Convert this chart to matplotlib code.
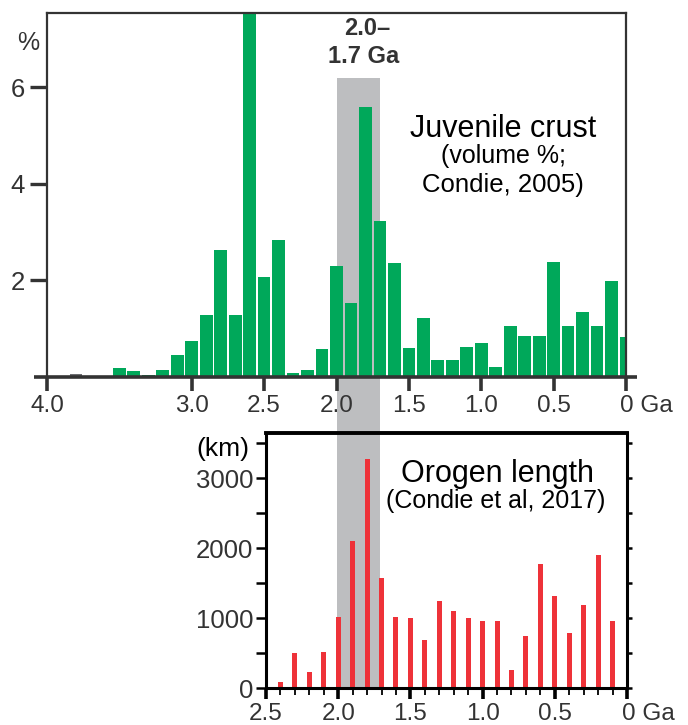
import matplotlib
matplotlib.use('Agg')
import matplotlib.pyplot as plt
from matplotlib.patches import Rectangle
from matplotlib.ticker import MultipleLocator
import matplotlib.transforms as mtransforms

plt.rcParams['font.family'] = ['Liberation Sans', 'DejaVu Sans']

# Juvenile crust (volume %, Condie 2005), bin centres in Ga
crust_age = [3.5, 3.4, 3.3, 3.2, 3.1, 3.0, 2.9, 2.8, 2.7, 2.6, 2.5, 2.4, 2.3, 2.2, 2.1,
             2.0, 1.9, 1.8, 1.7, 1.6, 1.5, 1.4, 1.3, 1.2, 1.1, 1.0, 0.9, 0.8, 0.7, 0.6,
             0.5, 0.4, 0.3, 0.2, 0.1, 0.0]
crust_pct = [0.19, 0.12, 0.05, 0.15, 0.46, 0.74, 1.29, 2.63, 1.29, 7.9, 2.08, 2.84, 0.09,
             0.15, 0.57, 2.30, 1.53, 5.6, 3.23, 2.36, 0.60, 1.22, 0.35, 0.35, 0.62, 0.70,
             0.21, 1.05, 0.84, 0.84, 2.38, 1.05, 1.34, 1.05, 1.98, 0.82]
old_age = [3.8]
old_pct = [0.07]

# Orogen length (km, Condie et al 2017)
orogen_age = [2.4, 2.3, 2.2, 2.1, 2.0, 1.9, 1.8, 1.7, 1.6, 1.5, 1.4, 1.3, 1.2, 1.1, 1.0,
              0.9, 0.8, 0.7, 0.6, 0.5, 0.4, 0.3, 0.2, 0.1]
orogen_km = [87, 505, 231, 519, 1010, 2106, 3274, 1572, 1010, 995, 692, 1240, 1096, 995,
             952, 952, 255, 745, 1769, 1322, 788, 1192, 1899, 962]

band = (2.0, 1.7)
top_ticks = [4.0, 3.0, 2.5, 2.0, 1.5, 1.0, 0.5, 0.0]
top_labels = ['4.0', '3.0', '2.5', '2.0', '1.5', '1.0', '0.5', '0 Ga']
bot_ticks = [2.5, 2.0, 1.5, 1.0, 0.5, 0.0]
bot_labels = ['2.5', '2.0', '1.5', '1.0', '0.5', '0 Ga']

GREEN = '#00a85a'
RED = '#ee3239'
BAND = '#bdbec0'
DARK = '#333333'

fig = plt.figure(figsize=(6.88, 7.25), dpi=100)
W, H = 688, 725
ax1 = fig.add_axes([47 / W, 1 - 377 / H, 579 / W, 364 / H])
ax2 = fig.add_axes([266 / W, 1 - 688 / H, 361 / W, 255 / H])
for ax in (ax1, ax2):
    ax.set_facecolor('none')

# shaded 2.0-1.7 Ga band running through both panels
tr = mtransforms.blended_transform_factory(ax1.transData, fig.transFigure)
fig.patches.append(Rectangle((band[0], 1 - 687 / H), band[1] - band[0], (687 - 78) / H,
                             transform=tr, color=BAND, zorder=-1, lw=0))

# "0 Ga": keep the 0 centred on its tick
shift = mtransforms.ScaledTranslation(-5.5 / 100, 0, fig.dpi_scale_trans)

# ---- top panel
ax1.bar(crust_age, crust_pct, width=0.088, color=GREEN, lw=0)
ax1.bar(old_age, old_pct, width=0.088, color='#6d6e71', lw=0)
ax1.set_xlim(4.0, 0.0)
ax1.set_ylim(0, 7.54)
for s in ['left', 'top', 'right']:
    ax1.spines[s].set_color(DARK)
    ax1.spines[s].set_linewidth(1.6)
ax1.spines['bottom'].set_visible(False)
ax1.plot([-0.0225, 1.019], [0, 0], transform=ax1.transAxes, color=DARK, lw=2.6,
         clip_on=False, solid_capstyle='butt')
ax1.set_yticks([2, 4, 6])
ax1.set_xticks(top_ticks)
ax1.set_xticklabels(top_labels)
ax1.tick_params(axis='y', length=12, width=2.4, color=DARK, labelsize=18.5, pad=4,
                labelcolor=DARK)
ax1.tick_params(axis='x', length=10, width=2.6, color=DARK, labelsize=17.5, pad=3,
                labelcolor=DARK)
lab = ax1.get_xticklabels()[-1]
lab.set_horizontalalignment('left')
lab.set_transform(lab.get_transform() + shift)
ax1.text(4.13, 6.77, '%', fontsize=18, color=DARK, ha='center', va='baseline')
ax1.text(1.79, 7.08, '2.0\u2013', fontsize=17, fontweight='bold', color=DARK,
         ha='center', va='baseline')
ax1.text(1.81, 6.50, '1.7 Ga', fontsize=17, fontweight='bold', color=DARK,
         ha='center', va='baseline')
ax1.text(0.85, 4.97, 'Juvenile crust', fontsize=22, color='black', ha='center',
         va='baseline')
ax1.text(0.85, 4.43, '(volume %;', fontsize=18, color='black', ha='center',
         va='baseline')
ax1.text(0.85, 3.83, 'Condie, 2005)', fontsize=18.5, color='black', ha='center',
         va='baseline')

# ---- bottom panel
ax2.bar(orogen_age, orogen_km, width=0.035, color=RED, lw=0)
ax2.set_xlim(2.5, 0.0)
ax2.set_ylim(0, 3650)
for s in ax2.spines.values():
    s.set_color('black')
    s.set_linewidth(2.2)
ax2.spines['top'].set_linewidth(2.8)
ax2.set_xticks(bot_ticks)
ax2.set_xticklabels(bot_labels)
ax2.xaxis.set_minor_locator(MultipleLocator(0.1))
ax2.set_yticks([0, 1000, 2000, 3000])
ax2.yaxis.set_minor_locator(MultipleLocator(500))
ax2.tick_params(axis='x', which='major', length=8, width=2.6, labelsize=17.5, pad=3,
                labelcolor=DARK)
ax2.tick_params(axis='x', which='minor', length=5, width=1.3)
ax2.tick_params(axis='y', which='both', length=7, width=1.8, labelsize=18.5, pad=2,
                labelcolor=DARK)
lab = ax2.get_xticklabels()[-1]
lab.set_horizontalalignment('left')
lab.set_transform(lab.get_transform() + shift)

# short ticks on the right edge
ax2r = ax2.twinx()
ax2r.set_ylim(ax2.get_ylim())
ax2r.yaxis.set_major_locator(MultipleLocator(500))
ax2r.tick_params(axis='y', length=3.5, width=1.8, labelright=False)
for s in ax2r.spines.values():
    s.set_visible(False)

ax2.text(2.80, 3325, '(km)', fontsize=19, color='black', ha='center', va='baseline',
         clip_on=False)
ax2.text(0.90, 2950, 'Orogen length', fontsize=22, color='black', ha='center',
         va='baseline')
ax2.text(0.91, 2580, '(Condie et al, 2017)', fontsize=18, color='black', ha='center',
         va='baseline')

fig.savefig('out.png', dpi=100)
